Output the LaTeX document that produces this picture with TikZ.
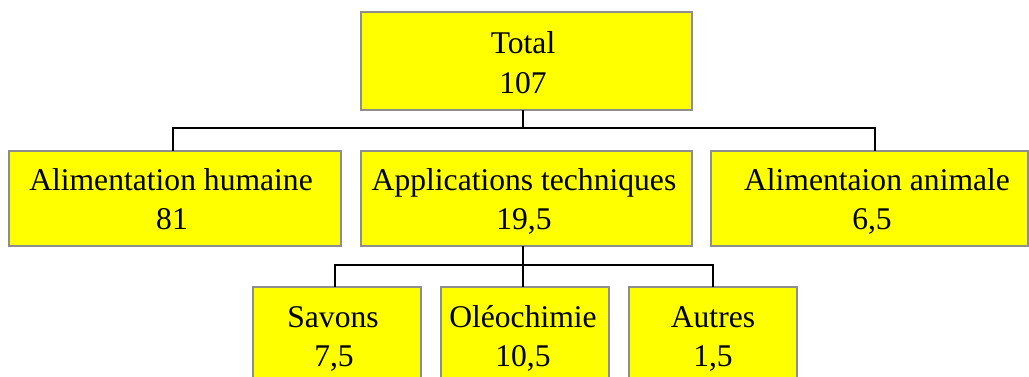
\documentclass[tikz,border=0pt]{standalone}
\usepackage{fontspec}
\setmainfont{Liberation Serif}
\definecolor{boxfill}{HTML}{FFFF00}
\definecolor{boxline}{HTML}{8E8E8E}
\begin{document}
\begin{tikzpicture}[x=1pt,y=-1pt,
  box/.style={draw=boxline, fill=boxfill, line width=1.2pt, inner sep=0pt, outer sep=0pt},
  txt/.style={anchor=base, inner sep=0pt, font=\fontsize{31.6}{40}\selectfont},
  link/.style={draw=black, line width=1.3pt}]
\useasboundingbox (0,0) rectangle (1029,376);
\clip (0,0) rectangle (1029,376);

% boxes
\node[box, minimum width=331pt, minimum height=98pt] (total) at (526.5,61) {};
\node[box, minimum width=332pt, minimum height=95pt] (ah) at (175,198.5) {};
\node[box, minimum width=331pt, minimum height=95pt] (ap) at (526.5,198.5) {};
\node[box, minimum width=317pt, minimum height=95pt] (an) at (869.5,198.5) {};
\node[box, minimum width=168pt, minimum height=133pt] (sav) at (337,353.5) {};
\node[box, minimum width=168pt, minimum height=133pt] (oleo) at (525,353.5) {};
\node[box, minimum width=168pt, minimum height=133pt] (aut) at (713,353.5) {};

% texts
\node[txt] (t1) at (523,53) {Total};
\node[txt] (t2) at (523,93) {107};
\node[txt] (ah1) at (171,190) {Alimentation humaine};
\node[txt] (ah2) at (172,229) {81};
\node[txt] (ap1) at (524,190) {Applications techniques};
\node[txt] (ap2) at (524,229) {19,5};
\node[txt] (an1) at (877,190) {Alimentaion animale};
\node[txt] (an2) at (872,229) {6,5};
\node[txt] (s1) at (333,327) {Savons};
\node[txt] (s2) at (334,366) {7,5};
\node[txt] (o1) at (523,327) {Oléochimie};
\node[txt] (o2) at (523,366) {10,5};
\node[txt] (a1) at (713,327) {Autres};
\node[txt] (a2) at (713,366) {1,5};

% connectors
\coordinate (bus1) at (523,128);
\coordinate (bus2) at (523,265);
\draw[link] ([xshift=-3.5pt]total.south) -- (bus1);
\draw[link] ([xshift=-2pt]ah.north) |- (bus1) -| ([xshift=5.5pt]an.north);
\draw[link] ([xshift=-3.5pt]ap.south) -- (bus2);
\draw[link] ([xshift=-2pt]sav.north) |- (bus2) -| (aut.north);
\draw[link] (bus2) -- ([xshift=-2pt]oleo.north);
\end{tikzpicture}
\end{document}
